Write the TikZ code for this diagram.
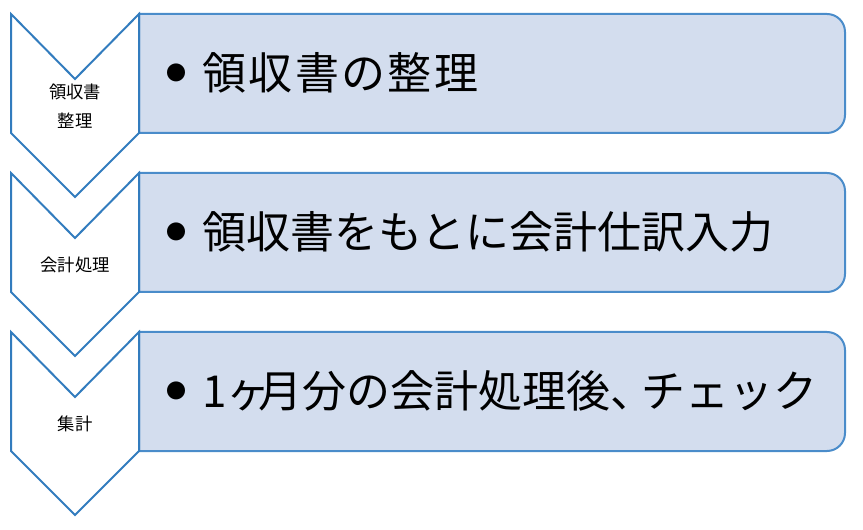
\documentclass[tikz,border=0pt]{standalone}
\usepackage{fontspec}
\setmainfont{Noto Sans CJK JP}
\definecolor{boxfill}{RGB}{211,221,238}
\definecolor{boxline}{RGB}{74,140,202}
\definecolor{chevline}{RGB}{50,124,190}
\newcommand{\itembullet}{\raisebox{6.8pt}{\fontsize{15pt}{15pt}\selectfont ●}\hspace{12pt}}
\begin{document}
\begin{tikzpicture}[x=0.75pt,y=-0.75pt,
    stepbox/.style={draw=boxline, fill=boxfill, line width=1.5pt},
    chevron/.style={draw=chevline, fill=white, line width=1.5pt},
    steplabel/.style={font=\fontsize{13pt}{21.75pt}\selectfont, align=center},
    itemtext/.style={font=\fontsize{33pt}{33pt}\selectfont, anchor=west, inner sep=0pt},
  ]
  \useasboundingbox (0,0) rectangle (863,530);

  \foreach \y in {14,173,332} {
    \path[stepbox] (139,\y) -- (827,\y) arc[start angle=270, end angle=360, radius=18]
      -- (845,\y+101) arc[start angle=0, end angle=90, radius=18] -- (139,\y+119) -- cycle;
    \path[chevron] (11,\y) -- (75,\y+65) -- (139,\y) -- (139,\y+119)
      -- (75,\y+183) -- (11,\y+119) -- cycle;
  }

  \node[steplabel] (lab1) at (75,106) {領収書\\整理};
  \node[steplabel] (lab2) at (75,265) {会計処理};
  \node[steplabel] (lab3) at (75,424) {集計};

  \node[itemtext] (item1) at (166,73) {\itembullet{\addfontfeature{LetterSpace=5.5}領収書の整理}};
  \node[itemtext] (item2) at (166,232) {\itembullet 領収書をもとに会計仕訳入力};
  \node[itemtext] (item3) at (166,391) {\itembullet 1ヶ\hspace{-9pt}月分の会計処理後、\hspace{-10pt}チェック};
\end{tikzpicture}
\end{document}
